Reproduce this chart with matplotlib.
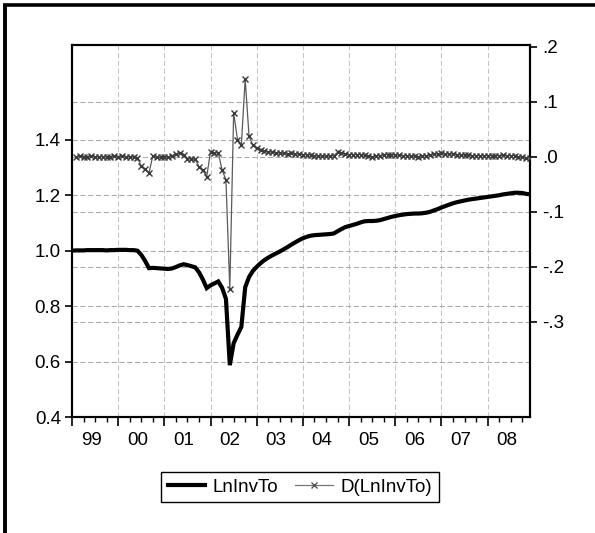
import numpy as np
import matplotlib
matplotlib.use("Agg")
import matplotlib.pyplot as plt
from matplotlib.lines import Line2D
from matplotlib.transforms import blended_transform_factory

# ──────────────────────────────────────────────
# Data (monthly, 1999M01 .. 2008M12)
# ──────────────────────────────────────────────
START_YEAR = 1999

ln_inv_to = [
    # 1999
    1.000, 1.001, 1.001, 1.001, 1.002, 1.002, 1.002, 1.002, 1.002, 1.001, 1.002, 1.002,
    # 2000
    1.003, 1.003, 1.003, 1.002, 1.002, 1.000, 0.985, 0.963, 0.937, 0.938, 0.937, 0.936,
    # 2001
    0.935, 0.934, 0.936, 0.941, 0.947, 0.951, 0.948, 0.944, 0.940, 0.922, 0.896, 0.865,
    # 2002
    0.875, 0.882, 0.889, 0.866, 0.826, 0.587, 0.666, 0.697, 0.725, 0.868, 0.905, 0.927,
    # 2003
    0.942, 0.955, 0.966, 0.975, 0.983, 0.990, 0.997, 1.005, 1.013, 1.022, 1.030, 1.038,
    # 2004
    1.045, 1.050, 1.054, 1.056, 1.057, 1.058, 1.059, 1.060, 1.062, 1.070, 1.078, 1.085,
    # 2005
    1.089, 1.093, 1.097, 1.102, 1.106, 1.107, 1.107, 1.108, 1.110, 1.114, 1.118, 1.122,
    # 2006
    1.125, 1.128, 1.130, 1.132, 1.133, 1.134, 1.134, 1.135, 1.137, 1.140, 1.145, 1.150,
    # 2007
    1.156, 1.161, 1.166, 1.171, 1.175, 1.178, 1.181, 1.184, 1.186, 1.188, 1.190, 1.192,
    # 2008
    1.194, 1.196, 1.198, 1.200, 1.203, 1.205, 1.207, 1.209, 1.209, 1.208, 1.205, 1.203,
]

# first difference, starts at 1999M02
d_ln_inv_to = [
    0.000, 0.001, 0.000, 0.000, 0.001, 0.000, 0.000, 0.000, 0.000, -0.001, 0.001,
    0.000, 0.001, 0.000, 0.000, -0.001, -0.002, -0.017, -0.023, -0.030, 0.002, -0.001, -0.001,
    -0.001, -0.001, 0.002, 0.005, 0.006, 0.004, -0.004, -0.004, -0.005, -0.018, -0.025, -0.036,
    0.009, 0.007, 0.007, -0.024, -0.042, -0.240, 0.080, 0.031, 0.021, 0.141, 0.037, 0.021,
    0.015, 0.012, 0.010, 0.009, 0.008, 0.007, 0.007, 0.006, 0.005, 0.006, 0.005, 0.005,
    0.004, 0.004, 0.003, 0.002, 0.001, 0.001, 0.001, 0.001, 0.002, 0.008, 0.006, 0.005,
    0.004, 0.004, 0.004, 0.004, 0.003, 0.001, 0.000, 0.001, 0.002, 0.004, 0.004, 0.004,
    0.003, 0.003, 0.002, 0.002, 0.001, 0.001, 0.000, 0.001, 0.002, 0.003, 0.005, 0.005,
    0.006, 0.005, 0.005, 0.005, 0.004, 0.003, 0.003, 0.003, 0.002, 0.002, 0.002, 0.002,
    0.002, 0.002, 0.002, 0.002, 0.003, 0.002, 0.002, 0.002, 0.000, -0.001, -0.003, -0.002,
]

year_labels = ["99", "00", "01", "02", "03", "04", "05", "06", "07", "08"]
left_ticks = [0.4, 0.6, 0.8, 1.0, 1.2, 1.4]
right_ticks = [-0.3, -0.2, -0.1, 0.0, 0.1, 0.2]
right_labels = ["-.3", "-.2", "-.1", ".0", ".1", ".2"]

# ──────────────────────────────────────────────
# Style
# ──────────────────────────────────────────────
plt.rcParams.update({
    "font.family": "Liberation Sans",
    "font.size": 13.5,
    "axes.linewidth": 1.5,
    "xtick.color": "black",
    "ytick.color": "black",
})

W, H = 595, 533
fig = plt.figure(figsize=(W / 100, H / 100), dpi=100)
ax = fig.add_axes([72 / W, 1 - 417 / H, (530 - 72) / W, (417 - 45) / H])
ax2 = ax.twinx()

t_level = START_YEAR + np.arange(len(ln_inv_to)) / 12.0
t_diff = t_level[1:]

ax.set_xlim(t_level[0], t_level[-1])
ax.set_ylim(0.4, 1.742)
ax2.set_ylim(-0.473, 0.203)

# grid: vertical at year boundaries, horizontal for both scales
GRID_H = dict(color="#aaaaaa", lw=0.75, linestyle=(0, (5, 2.5)), zorder=0)
GRID_V = dict(color="#c4c4c4", lw=0.75, linestyle=(0, (5, 2.5)), zorder=0)
years = np.arange(START_YEAR + 1, START_YEAR + len(year_labels))
for y in years:
    ax.axvline(y, **GRID_V)
for v in left_ticks[1:]:
    ax.axhline(v, **GRID_H)
right_tr = blended_transform_factory(ax.transAxes, ax2.transData)
for v in right_ticks[:-1]:
    ax.plot([0, 1], [v, v], transform=right_tr, **GRID_H)

# series
ax.plot(t_level, ln_inv_to, color="black", lw=3.0, zorder=3,
        solid_joinstyle="miter")
ax2.plot(t_diff, d_ln_inv_to, color="#5a5a5a", lw=0.9, marker="x",
         markersize=4.2, markeredgewidth=1.0, markeredgecolor="#3a3a3a", zorder=3)

# ticks
ax.set_yticks(left_ticks, [f"{v:.1f}" for v in left_ticks])
ax2.set_yticks(right_ticks, right_labels)
ax.tick_params(axis="y", direction="out", length=5, width=1.2, pad=3)
ax2.tick_params(axis="y", direction="out", length=5, width=1.2, pad=3.5)

quarters = np.arange(START_YEAR, t_level[-1] + 1e-9, 0.25)
ax.set_xticks(np.arange(START_YEAR, START_YEAR + len(year_labels)), [""] * len(year_labels))
ax.set_xticks(quarters, minor=True)
ax.tick_params(axis="x", which="major", direction="out", length=6.5, width=1.2)
ax.tick_params(axis="x", which="minor", direction="out", length=3.6, width=1.0)

lab_ax = ax.secondary_xaxis("bottom")
lab_ax.set_xticks(np.arange(START_YEAR, START_YEAR + len(year_labels)) + 5 / 12.0, year_labels)
lab_ax.tick_params(axis="x", length=0, pad=11)
lab_ax.spines["bottom"].set_visible(False)

for a in (ax, ax2):
    for s in a.spines.values():
        s.set_color("black")

# legend
handles = [
    Line2D([], [], color="black", lw=3.0),
    Line2D([], [], color="#777777", lw=0.9, marker="x", markersize=4.2,
           markeredgewidth=1.0, markeredgecolor="#555555"),
]
leg = fig.legend(handles, ["LnInvTo", "D(LnInvTo)"], loc="center",
                 bbox_to_anchor=(300 / W, 1 - 487 / H), ncol=2, numpoints=1,
                 frameon=True, fancybox=False, edgecolor="black", framealpha=1,
                 borderpad=0.35, handlelength=2.0, handletextpad=0.4,
                 columnspacing=0.9)
leg.get_frame().set_linewidth(1.0)

# outer frame (top and left edges only visible)
fig.add_artist(Line2D([3 / W, 1], [1 - 5 / H, 1 - 5 / H], color="black", lw=2.6,
                      transform=fig.transFigure, solid_capstyle="butt"))
fig.add_artist(Line2D([5 / W, 5 / W], [0, 1 - 3.5 / H], color="black", lw=2.8,
                      transform=fig.transFigure, solid_capstyle="butt"))

fig.savefig("out.png", dpi=100)
